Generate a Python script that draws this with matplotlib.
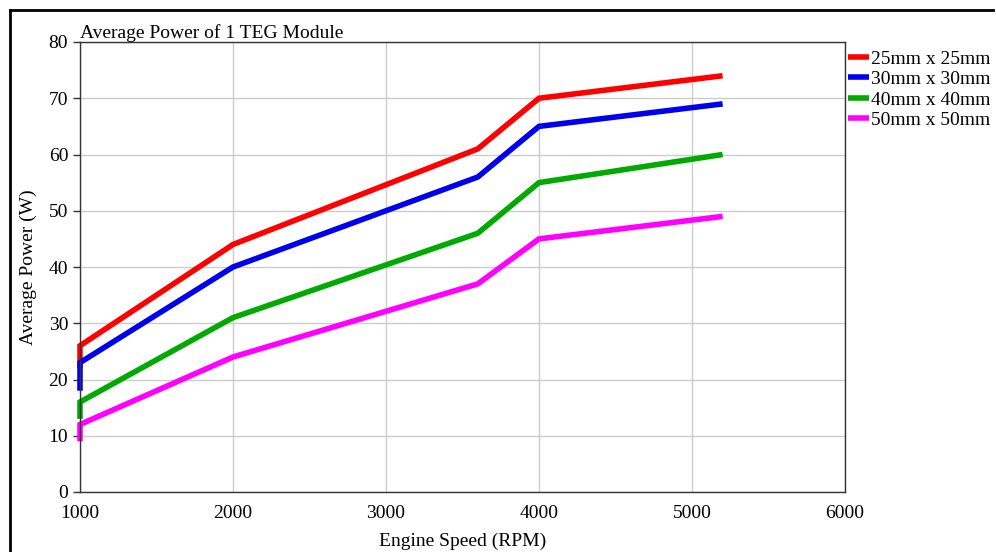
import matplotlib
matplotlib.use("Agg")
import matplotlib.pyplot as plt
from matplotlib.lines import Line2D

plt.rcParams['font.family'] = ['Liberation Serif', 'DejaVu Serif']

rpm = [1000, 1000, 2000, 3600, 4000, 5200]
p25 = [22, 26, 44, 61, 70, 74]
p30 = [18, 23, 40, 56, 65, 69]
p40 = [13, 16, 31, 46, 55, 60]
p50 = [9, 12, 24, 37, 45, 49]
labels = ['25mm x 25mm', '30mm x 30mm', '40mm x 40mm', '50mm x 50mm']
colors = ['#ff0000', '#0000ee', '#00aa00', '#ff00ff']
xticks = [1000, 2000, 3000, 4000, 5000, 6000]
yticks = [0, 10, 20, 30, 40, 50, 60, 70, 80]

W, H = 996, 552
fig = plt.figure(figsize=(W / 100, H / 100), dpi=100)
ax = fig.add_axes([80 / W, 1 - 492 / H, (845 - 80) / W, (492 - 42) / H])

for ys, c, lab in zip([p25, p30, p40, p50], colors, labels):
    ax.plot(rpm, ys, color=c, lw=4, label=lab, solid_capstyle='butt',
            solid_joinstyle='miter', clip_on=False)

ax.set_xlim(1000, 6000)
ax.set_ylim(0, 80)
ax.set_xticks(xticks)
ax.set_yticks(yticks)
ax.grid(True, color='#cccccc', lw=1)
ax.set_axisbelow(True)
for s in ax.spines.values():
    s.set_color('#333333')
    s.set_linewidth(1)
ax.tick_params(axis='both', labelsize=14, length=5, width=1, color='#333333')
ax.tick_params(axis='x', length=0, pad=9)
ax.set_xlabel('Engine Speed (RPM)', fontsize=14, labelpad=8)
ax.set_ylabel('Average Power (W)', fontsize=14, labelpad=8)
ax.set_title('Average Power of 1 TEG Module', fontsize=14, loc='left', pad=1)

leg = ax.legend(loc='upper left', bbox_to_anchor=(848 / W, 1 - 50 / H), bbox_transform=fig.transFigure,
                frameon=False, fontsize=14, handlelength=1.1, handletextpad=0.1,
                labelspacing=0.15, borderaxespad=0, borderpad=0)
for h in leg.get_lines():
    h.set_linewidth(4)

fig.add_artist(Line2D([10 / W, 993 / W], [1 - 10 / H, 1 - 10 / H], color='black', lw=2, transform=fig.transFigure))
fig.add_artist(Line2D([10 / W, 10 / W], [1 - 10 / H, 0], color='black', lw=2, transform=fig.transFigure))

fig.savefig('out.png', dpi=100)
